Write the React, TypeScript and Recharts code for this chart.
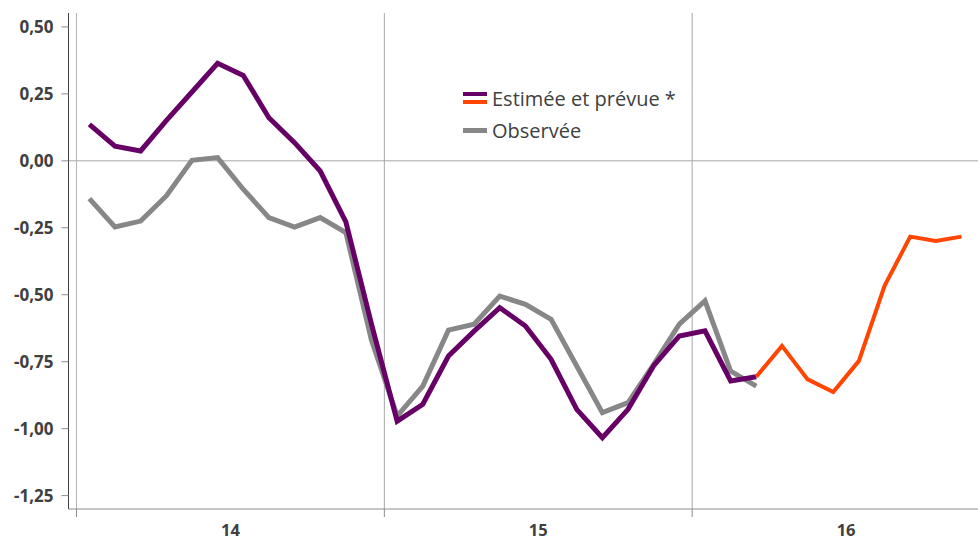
import { LineChart, Line, XAxis, YAxis, ReferenceLine } from 'recharts';

// monthly values, Jan 14 -> Dec 16
const estimee = [
  0.136, 0.055, 0.037, 0.15, 0.257, 0.364, 0.319, 0.161, 0.068, -0.038, -0.228, -0.61,
  -0.972, -0.909, -0.729, -0.636, -0.548, -0.617, -0.741, -0.928, -1.034, -0.928, -0.765, -0.654,
  -0.635, -0.822, -0.806,
];
const prevue = [-0.806, -0.691, -0.816, -0.863, -0.747, -0.467, -0.283, -0.299, -0.283];
const PREVUE_START = 26;
const observee = [
  -0.141, -0.247, -0.225, -0.131, 0.002, 0.012, -0.106, -0.212, -0.247, -0.212, -0.268, -0.67,
  -0.953, -0.841, -0.632, -0.61, -0.505, -0.536, -0.592, -0.766, -0.94, -0.903, -0.76, -0.61,
  -0.523, -0.785, -0.841,
];
const yearLabels = ['14', '15', '16'];
const MONTHS = 36;
const yTicks = [-1.25, -1, -0.75, -0.5, -0.25, 0, 0.25, 0.5];

const PURPLE = '#660066';
const ORANGE = '#ff4500';
const GREY = '#878787';
const TEXT = '#404040';
const FONT = '"Open Sans", sans-serif';

const data = Array.from({ length: MONTHS }, (_, i) => ({
  x: i + 0.5,
  estimee: i < estimee.length ? estimee[i] : null,
  prevue: i >= PREVUE_START && i - PREVUE_START < prevue.length ? prevue[i - PREVUE_START] : null,
  observee: i < observee.length ? observee[i] : null,
}));

const fmt = (v: number) => v.toFixed(2).replace('.', ',');

const YearTick = (props: any) => {
  const { x, y, payload } = props;
  const v = payload.value as number;
  if (v % 12 === 0) {
    return <line x1={x} x2={x} y1={y} y2={y + 8} stroke="#8c8c8c" strokeWidth={1} />;
  }
  return (
    <text x={x} y={y + 27} textAnchor="middle" fill={TEXT} fontSize={16.5} fontWeight={700} fontFamily={FONT}>
      {yearLabels[(v - 6) / 12]}
    </text>
  );
};

export default function App() {
  return (
    <div style={{ position: 'absolute', left: 0, top: 0, width: 978, height: 541, overflow: 'hidden', background: '#fff' }}>
      <LineChart width={1000} height={541} data={data} margin={{ top: 13, right: 0, bottom: 0, left: 0.5 }}>
        <XAxis
          type="number"
          dataKey="x"
          domain={[0, MONTHS]}
          ticks={[0, 6, 12, 18, 24, 30, 36]}
          interval={0}
          padding={{ left: 8, right: 0 }}
          height={32}
          tickSize={0}
          tickMargin={0}
          tickLine={false}
          axisLine={{ stroke: '#8c8c8c' }}
          tick={<YearTick />}
        />
        <YAxis
          type="number"
          domain={[-1.3, 0.552]}
          ticks={yTicks}
          allowDataOverflow
          width={68}
          tickSize={7}
          tickMargin={8}
          tickFormatter={fmt}
          axisLine={{ stroke: TEXT }}
          tickLine={{ stroke: '#8c8c8c' }}
          tick={{ fill: TEXT, fontSize: 17, fontWeight: 700, fontFamily: FONT }}
        />
        <ReferenceLine y={0} stroke="#a6a6a6" />
        <ReferenceLine x={0} stroke="#b4b4b4" />
        <ReferenceLine x={12} stroke="#a6a6a6" />
        <ReferenceLine x={24} stroke="#a6a6a6" />
        <Line type="linear" dataKey="observee" stroke={GREY} strokeWidth={5} dot={false} isAnimationActive={false} />
        <Line type="linear" dataKey="estimee" stroke={PURPLE} strokeWidth={5} dot={false} isAnimationActive={false} />
        <Line type="linear" dataKey="prevue" stroke={ORANGE} strokeWidth={4} dot={false} isAnimationActive={false} />
      </LineChart>

      <div style={{ position: 'absolute', left: 463, top: 84, fontFamily: FONT, fontSize: 20, color: TEXT }}>
        <div style={{ display: 'flex', alignItems: 'center', height: 28 }}>
          <div style={{ width: 24, marginRight: 5 }}>
            <div style={{ height: 4.5, background: PURPLE, marginBottom: 3.5 }} />
            <div style={{ height: 4.5, background: ORANGE }} />
          </div>
          <span>Estimée et prévue *</span>
        </div>
        <div style={{ display: 'flex', alignItems: 'center', height: 28, marginTop: 4 }}>
          <div style={{ width: 24, height: 5, background: GREY, marginRight: 5 }} />
          <span>Observée</span>
        </div>
      </div>
    </div>
  );
}
